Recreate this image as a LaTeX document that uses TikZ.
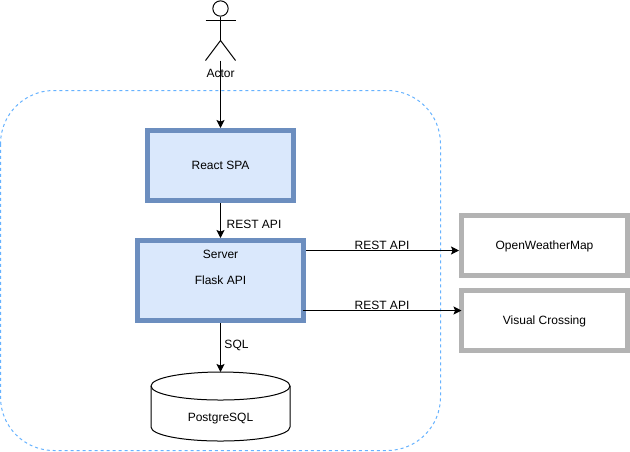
\documentclass[tikz,border=0pt]{standalone}
\usepackage{fontspec}
\setmainfont{Liberation Sans}
\usepackage{xcolor}
\usetikzlibrary{calc}
\usetikzlibrary{arrows.meta}

\definecolor{boxblue}{HTML}{6C8EBF}
\definecolor{fillblue}{HTML}{DAE8FC}
\definecolor{boxgray}{HTML}{B3B3B3}
\definecolor{zoneblue}{HTML}{66B2FF}

\tikzset{
    appbox/.style = {rectangle,draw = boxblue,fill = fillblue,line width = 3.75pt,minimum width = 124.5pt,minimum height = 60pt},
    extbox/.style = {rectangle,draw = boxgray,fill = white,line width = 3.75pt,minimum width = 124.5pt,minimum height = 45pt},
    conn/.style = {-{Stealth[length=6pt,width=6pt,inset=1.2pt]},black,line width = 0.75pt},
    lbl/.style = {inner sep = 0pt,font = \fontsize{9}{11}\selectfont}
}

\begin{document}
\begin{tikzpicture}[x=0.75pt,y=-0.75pt,line width=0.75pt]
            \useasboundingbox (0, 0) rectangle (630, 451);

            % zone
            \draw[zoneblue,dash pattern=on 2.25pt off 2.25pt,rounded corners=40pt] (0.5, 90.5) rectangle (440.5, 450.5);

            % actor
            \node[circle,draw,inner sep=0pt,minimum size=11.5pt,line width=0.75pt] (head) at (220.5, 8.5) {};
            \coordinate (feet) at (220.5, 40.5);
            \coordinate (start) at (220.5, 60.5);
            \draw (head.south) -- (feet);
            \draw (205.5, 20.5) -- (235.5, 20.5);
            \draw (205.5, 60.5) -- (feet) -- (235.5, 60.5);
            \node[lbl] (actor) at (220.5, 73.8) {Actor};

            % boxes
            \node[appbox,minimum height = 52.5pt,minimum width = 109.5pt] (spa) at (220.5, 165.5) {};
            \node[lbl] at (spa.center) {React SPA};
            \node[appbox] (srv) at (220.5, 280.5) {};
            \node[lbl] (srvname) at (220.5, 254.5) {Server};
            \node[lbl] (flask) at (220.5, 280) {Flask API};
            \node[extbox] (owm) at (544.5, 245.5) {};
            \node[lbl] at ($(owm.center)+(0, 0.5)$) {OpenWeatherMap};
            \node[extbox] (vc) at (544.5, 320.5) {};
            \node[lbl] at ($(vc.center)+(0, 1)$) {Visual Crossing};

            % database
            \node[rectangle,inner sep=0pt,outer sep=0pt,minimum width=104.25pt,minimum height=51.75pt] (db) at (220.5, 406.5) {};
            \draw[fill=white] (151, 386) .. controls (151, 378) and (182, 372) .. (220.5, 372)
                .. controls (259, 372) and (290, 378) .. (290, 386) -- (290, 427)
                .. controls (290, 435) and (259, 441) .. (220.5, 441)
                .. controls (182, 441) and (151, 435) .. (151, 427) -- cycle;
            \draw (151, 386) .. controls (151, 394) and (182, 400) .. (220.5, 400)
                .. controls (259, 400) and (290, 394) .. (290, 386);
            \node[lbl] (dbname) at (220.5, 418.5) {PostgreSQL};

            % connectors
            \draw[conn] (start) -- (spa.north);
            \draw[conn] (spa.south) -- (srv.north);
            \draw[conn] (srv.south) -- (db.north);
            \draw[conn] ($(srv.east)+(0, -30)$) -- ($(owm.west)+(0, 5)$);
            \draw[conn] ($(srv.east)+(-3, 30)$) -- ($(vc.west)+(2.5, -10)$);

            \node[lbl] (restspa) at (254, 224.8) {REST API};
            \node[lbl] (sql) at (236.5, 345) {SQL};
            \node[lbl] (restowm) at (382, 245) {REST API};
            \node[lbl] (restvc) at (382, 305) {REST API};
        \end{tikzpicture}
\end{document}
